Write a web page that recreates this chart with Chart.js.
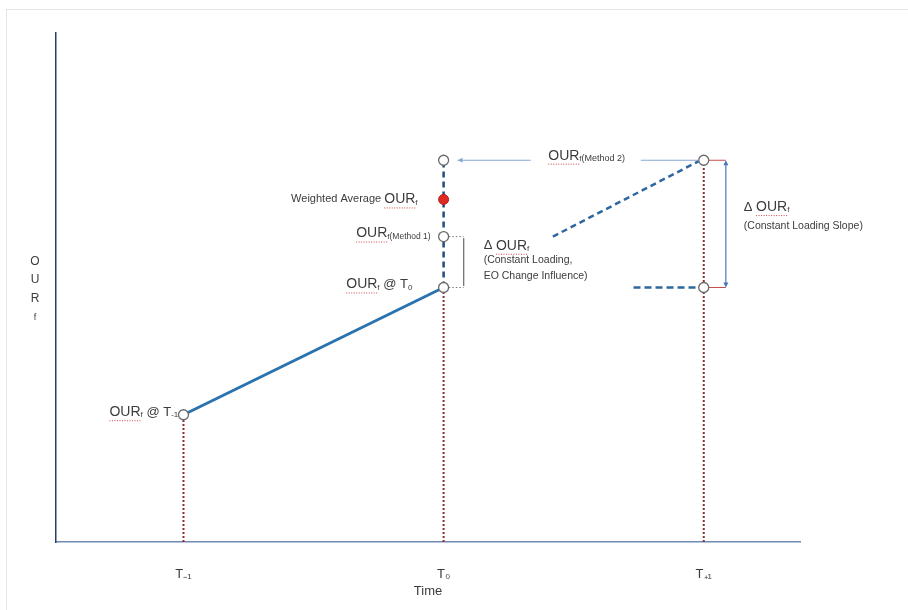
<!DOCTYPE html>
<html>
<head>
<meta charset="utf-8">
<script src="https://cdn.jsdelivr.net/npm/chart.js@4"></script>
<style>
  body { margin: 0; background: #fff; }
  #wrap { position: relative; width: 908px; height: 610px; }
  #frame { position: absolute; left: 6px; top: 9px; right: 0; bottom: 0; border-left: 1px solid #e4e4e4; border-top: 1px solid #e4e4e4; pointer-events: none; }
</style>
</head>
<body>
<div id="wrap">
  <canvas id="chart" width="908" height="610"></canvas>
  <div id="frame"></div>
</div>
<script>
// time positions on the x axis (T-1, T0, T+1)
let times = [1, 2, 3]
let tickLabels = ['T₋₁', 'T₀', 'T₊₁']

// OURf values (axis 0..100)
let ourMeasured = [25, 50]            // OURf @ T-1, OURf @ T0
let ourT0Stack = [60, 67.3, 75]       // Method 1, weighted average, Method 2 (at T0)
let ourNext = [75, 50]                // T+1 : Method 2 level, baseline

// guide lines in data units
let slopeX = [2.42, 2.98], slopeY = [60, 74.8]          // dashed slope towards T+1
let baseX = [2.73, 2.98]                                // dashed baseline into T+1
let method2ArrowX = [2.054, 2.335, 2.758, 2.978]        // thin arrow at Method 2 level
let bracketT0X = 2.077
let bracketT1X = 3.085

const FONT = "'Liberation Sans', Arial, sans-serif"
let textColor = '#3c3c3c'

function pt(x, y) { return { x: x, y: y } }

let hollow = [pt(times[0], ourMeasured[0]), pt(times[1], ourMeasured[1]),
  pt(times[1], ourT0Stack[0]), pt(times[1], ourT0Stack[2]),
  pt(times[2], ourNext[0]), pt(times[2], ourNext[1])]

function line(data, color, width, dash) {
  return {
    data: data, showLine: true, borderColor: color, borderWidth: width,
    borderDash: dash || [], pointRadius: 0, order: 5
  }
}

let datasets = [
  { data: hollow, pointRadius: 5, pointBackgroundColor: '#fff', pointBorderColor: '#6a6a6a', pointBorderWidth: 1.3, order: 0 },
  { data: [pt(times[1], ourT0Stack[1])], pointRadius: 5, pointBackgroundColor: '#dd2a22', pointBorderColor: '#b81d16', pointBorderWidth: 1, order: 0 },
  // measured rise T-1 -> T0
  line([pt(times[0], ourMeasured[0]), pt(times[1], ourMeasured[1])], '#2a73ae', 3),
  // dashed column at T0
  line([pt(times[1], ourMeasured[1]), pt(times[1], ourT0Stack[2])], '#1e4f7e', 2.5, [6, 4]),
  // red dotted drops to the time axis
  line([pt(times[0], 0), pt(times[0], ourMeasured[0])], '#8c2f2f', 2, [2, 2]),
  line([pt(times[1], 0), pt(times[1], ourMeasured[1])], '#8c2f2f', 2, [2, 2]),
  line([pt(times[2], 0), pt(times[2], ourNext[0])], '#8c2f2f', 2, [2, 2]),
  // slope and baseline towards T+1
  line([pt(slopeX[0], slopeY[0]), pt(slopeX[1], slopeY[1])], '#2c67a0', 2.5, [6, 4]),
  line([pt(baseX[0], ourNext[1]), pt(baseX[1], ourNext[1])], '#2c67a0', 2.5, [7, 4]),
  // thin Method 2 arrow
  line([pt(method2ArrowX[0], ourNext[0]), pt(method2ArrowX[1], ourNext[0])], '#86a9d2', 1.2),
  line([pt(method2ArrowX[2], ourNext[0]), pt(method2ArrowX[3], ourNext[0])], '#86a9d2', 1.2),
  // bracket at T0
  line([pt(times[1] + 0.02, ourT0Stack[0]), pt(bracketT0X, ourT0Stack[0])], '#777', 1, [1.5, 2]),
  line([pt(times[1] + 0.02, ourMeasured[1]), pt(bracketT0X, ourMeasured[1])], '#777', 1, [1.5, 2]),
  line([pt(bracketT0X, ourT0Stack[0] - 0.3), pt(bracketT0X, ourMeasured[1] + 0.3)], '#777', 1),
  // bracket at T+1
  line([pt(times[2] + 0.02, ourNext[0]), pt(bracketT1X, ourNext[0])], '#c9504a', 1),
  line([pt(times[2] + 0.02, ourNext[1]), pt(bracketT1X, ourNext[1])], '#c9504a', 1),
  line([pt(bracketT1X, ourNext[0] - 0.4), pt(bracketT1X, ourNext[1] + 0.4)], '#4a78b4', 1.2)
]

// rich text helper: segments with size and subscript flag
function drawRich(ctx, segs, x, y, align) {
  let w = 0
  segs.forEach(s => { ctx.font = s.s + 'px ' + FONT; s.w = ctx.measureText(s.t).width; w += s.w })
  let cx = align === 'right' ? x - w : align === 'center' ? x - w / 2 : x
  ctx.textBaseline = 'middle'
  ctx.textAlign = 'left'
  segs.forEach(s => {
    ctx.font = s.s + 'px ' + FONT
    ctx.fillStyle = textColor
    let yy = y + (s.sub ? 3 : 0)
    ctx.fillText(s.t, cx, yy)
    if (s.mark) {
      ctx.save()
      ctx.strokeStyle = '#d04848'
      ctx.lineWidth = 1
      ctx.setLineDash([1, 1.5])
      ctx.beginPath()
      ctx.moveTo(cx, yy + s.s / 2 + 1.5)
      ctx.lineTo(cx + s.w, yy + s.s / 2 + 1.5)
      ctx.stroke()
      ctx.restore()
    }
    cx += s.w
  })
}

function our(extra) {
  let segs = [{ t: 'OUR', s: 14, mark: true }, { t: 'f', s: 8, sub: true }]
  return segs.concat(extra || [])
}

let labelsPlugin = {
  id: 'labels',
  afterDatasetsDraw(chart) {
    let ctx = chart.ctx
    let xs = chart.scales.x, ys = chart.scales.y
    let X = v => xs.getPixelForValue(v), Y = v => ys.getPixelForValue(v)
    ctx.save()
    drawRich(ctx, [{ t: 'Weighted Average ', s: 11 }].concat(our()), X(1.9), Y(ourT0Stack[1]), 'right')
    drawRich(ctx, our([{ t: '(Method 1)', s: 8.5, sub: true }]), X(1.95), Y(ourT0Stack[0] + 0.6), 'right')
    drawRich(ctx, our([{ t: ' @ T', s: 13 }, { t: '0', s: 8, sub: true }]), X(1.88), Y(ourMeasured[1] + 0.6), 'right')
    drawRich(ctx, our([{ t: ' @ T', s: 13 }, { t: '-1', s: 8, sub: true }]), X(0.98), Y(ourMeasured[0] + 0.5), 'right')
    drawRich(ctx, our([{ t: '(Method 2)', s: 9, sub: true }]), X(2.55), Y(ourNext[0] + 0.9), 'center')
    drawRich(ctx, [{ t: 'Δ ', s: 13 }].concat(our()), X(2.154), Y(58.2), 'left')
    drawRich(ctx, [{ t: '(Constant Loading,', s: 10.5 }], X(2.154), Y(55.3), 'left')
    drawRich(ctx, [{ t: 'EO Change Influence)', s: 10.5 }], X(2.154), Y(52.3), 'left')
    drawRich(ctx, [{ t: 'Δ ', s: 13 }].concat(our()), X(3.154), Y(65.8), 'left')
    drawRich(ctx, [{ t: '(Constant Loading Slope)', s: 10.5 }], X(3.154), Y(62), 'left')

    // arrow heads
    ctx.fillStyle = '#86a9d2'
    let ax = X(method2ArrowX[0]), ay = Y(ourNext[0])
    ctx.beginPath(); ctx.moveTo(ax, ay); ctx.lineTo(ax + 5, ay - 2.5); ctx.lineTo(ax + 5, ay + 2.5); ctx.fill()
    ctx.fillStyle = '#4a78b4'
    let bx = X(bracketT1X), by1 = Y(ourNext[0]), by2 = Y(ourNext[1])
    ctx.beginPath(); ctx.moveTo(bx, by1); ctx.lineTo(bx - 2.5, by1 + 5); ctx.lineTo(bx + 2.5, by1 + 5); ctx.fill()
    ctx.beginPath(); ctx.moveTo(bx, by2); ctx.lineTo(bx - 2.5, by2 - 5); ctx.lineTo(bx + 2.5, by2 - 5); ctx.fill()

    // stacked y-axis label
    let letters = [['O', 12, 262], ['U', 12, 280], ['R', 12, 299], ['f', 9, 318]]
    ctx.fillStyle = textColor
    ctx.textAlign = 'center'
    ctx.textBaseline = 'middle'
    letters.forEach(l => {
      ctx.font = l[1] + 'px ' + FONT
      ctx.fillText(l[0], 35, l[2])
    })
    ctx.restore()
  }
}

new Chart(document.getElementById('chart'), {
  type: 'scatter',
  data: { datasets: datasets },
  plugins: [labelsPlugin],
  options: {
    responsive: false,
    animation: false,
    layout: { padding: { left: 56, top: 33, right: 108, bottom: 7 } },
    plugins: { legend: { display: false }, tooltip: { enabled: false } },
    scales: {
      x: {
        type: 'linear', min: 0.51, max: 3.37,
        afterBuildTicks: s => { s.ticks = times.map(v => ({ value: v })) },
        afterFit: s => { s.height = 61 },
        ticks: {
          padding: 25, color: textColor, font: { family: FONT, size: 13 },
          callback: (v) => tickLabels[times.indexOf(v)] || ''
        },
        grid: { display: false, drawTicks: false },
        border: { display: true, color: '#6f8ab5', width: 1.5 },
        title: { display: true, text: 'Time', color: textColor, font: { family: FONT, size: 13 }, padding: { top: 2, bottom: 4 } }
      },
      y: {
        min: 0, max: 100,
        ticks: { display: false },
        grid: { display: false, drawTicks: false },
        border: { display: true, color: '#243f6b', width: 1.5 }
      }
    }
  }
})
</script>
</body>
</html>
